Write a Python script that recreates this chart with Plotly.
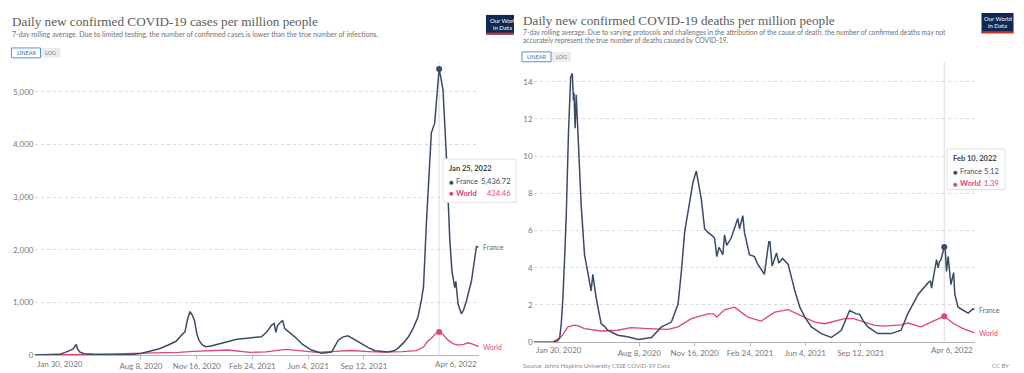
import plotly.graph_objects as go

# ---------------- DATA ----------------
cases_dates = ["2020-01-30","2020-02-25","2020-03-05","2020-03-15","2020-03-25","2020-04-02","2020-04-08",
"2020-04-12","2020-04-14","2020-04-16","2020-04-20","2020-04-28","2020-05-15","2020-06-15","2020-07-10",
"2020-07-25","2020-08-08","2020-08-25","2020-09-10","2020-09-26","2020-10-10","2020-10-20","2020-10-26",
"2020-10-30","2020-11-04","2020-11-08","2020-11-12","2020-11-16","2020-11-20","2020-11-26","2020-12-02",
"2020-12-12","2020-12-24","2021-01-05","2021-01-17","2021-01-27","2021-02-10","2021-02-25","2021-03-12",
"2021-03-22","2021-03-30","2021-04-04","2021-04-07","2021-04-10","2021-04-15","2021-04-19","2021-04-23",
"2021-05-01","2021-05-11","2021-05-25","2021-06-10","2021-06-28","2021-07-10","2021-07-16","2021-07-22",
"2021-07-28","2021-08-05","2021-08-14","2021-08-25","2021-09-07","2021-09-20","2021-10-02","2021-10-25",
"2021-11-05","2021-11-12","2021-11-22","2021-12-01","2021-12-10","2021-12-18","2021-12-24","2021-12-28",
"2022-01-02","2022-01-08","2022-01-11","2022-01-17","2022-01-21","2022-01-25","2022-01-28","2022-02-01",
"2022-02-07","2022-02-13","2022-02-17","2022-02-20","2022-02-22","2022-02-24","2022-02-28","2022-03-06",
"2022-03-10","2022-03-15","2022-03-24","2022-04-02","2022-04-06"]
france_cases = [0,0,2,12,50,80,110,170,200,120,60,25,12,8,10,15,30,70,120,190,260,380,440,650,825,760,656,
420,280,190,157,170,207,240,282,300,313,330,345,440,563,600,430,560,626,660,500,430,345,200,94,32,40,56,
170,281,340,363,300,219,140,82,57,80,126,230,345,520,720,1031,1300,2470,3782,4219,4406,5000,5436.72,5280,
5031,3782,2220,1594,1400,1282,1400,969,782,860,1031,1406,2063,2050]

world_cases_dates = ["2020-01-30","2020-03-01","2020-03-20","2020-04-10","2020-05-15","2020-06-15","2020-07-20",
"2020-08-20","2020-09-20","2020-10-15","2020-11-10","2020-12-15","2021-01-10","2021-02-20","2021-03-20",
"2021-04-25","2021-05-20","2021-06-20","2021-07-20","2021-08-20","2021-09-20","2021-10-15","2021-11-20",
"2021-12-15","2021-12-28","2022-01-05","2022-01-11","2022-01-18","2022-01-25","2022-02-01","2022-02-10",
"2022-02-20","2022-02-28","2022-03-10","2022-03-18","2022-03-25","2022-04-06"]
world_cases = [0,1,4,10,12,18,30,34,38,48,70,82,95,50,60,106,75,48,70,85,65,53,65,82,150,270,313,400,434.46,
390,282,210,188,200,232,210,157]

deaths_dates = ["2020-01-30","2020-03-05","2020-03-12","2020-03-17","2020-03-20","2020-03-23","2020-03-26",
"2020-03-29","2020-04-02","2020-04-06","2020-04-09","2020-04-11","2020-04-12","2020-04-14","2020-04-16",
"2020-04-19","2020-04-22","2020-04-25","2020-05-01","2020-05-07","2020-05-11","2020-05-13","2020-05-16",
"2020-05-19","2020-05-22","2020-05-31","2020-06-06","2020-06-12","2020-06-30","2020-07-18","2020-08-06",
"2020-08-30","2020-09-17","2020-10-05","2020-10-17","2020-10-23","2020-10-29","2020-11-04","2020-11-13",
"2020-11-19","2020-11-21","2020-11-28","2020-12-04","2020-12-10","2020-12-16","2020-12-22","2020-12-26",
"2020-12-30","2021-01-06","2021-01-09","2021-01-13","2021-01-21","2021-02-02","2021-02-05","2021-02-11",
"2021-02-14","2021-02-23","2021-03-04","2021-03-10","2021-03-22","2021-03-30","2021-04-01","2021-04-05",
"2021-04-13","2021-04-17","2021-04-24","2021-05-04","2021-05-10","2021-05-16","2021-05-25","2021-06-03",
"2021-06-15","2021-07-03","2021-07-21","2021-08-08","2021-08-23","2021-09-04","2021-09-10","2021-09-16",
"2021-09-25","2021-10-13","2021-11-06","2021-11-24","2021-12-06","2021-12-22","2021-12-25","2022-01-12",
"2022-01-16","2022-01-18","2022-01-24","2022-01-27","2022-01-30","2022-02-01","2022-02-04","2022-02-07",
"2022-02-10","2022-02-12","2022-02-14","2022-02-17","2022-02-22","2022-02-27","2022-03-01","2022-03-07",
"2022-03-16","2022-03-25","2022-04-03","2022-04-06"]
france_deaths = [0,0,0.05,0.2,1.0,2.4,4.5,6.8,11.25,14.26,14.45,13.0,13.4,11.5,13.3,11.25,9.0,7.36,4.7,3.65,
2.9,2.76,3.65,3.0,2.4,1.0,0.85,0.64,0.37,0.29,0.14,0.25,0.82,1.08,2.05,3.8,5.94,7.0,8.6,9.2,8.9,7.7,6.1,5.9,
5.77,5.6,4.6,5.1,4.7,5.77,5.2,5.6,6.65,6.1,6.8,5.9,4.7,4.6,4.2,3.65,5.4,5.4,4.09,4.8,4.25,4.5,4.18,3.47,2.76,
1.88,1.35,0.82,0.46,0.25,0.64,1.7,1.52,1.5,1.17,0.82,0.46,0.46,0.64,1.52,2.4,2.58,3.2,3.3,2.9,3.82,4.44,4.0,
4.3,4.44,4.88,5.12,4.9,3.8,4.6,3.1,3.74,2.58,1.88,1.7,1.56,1.79,1.75]

world_deaths_dates = ["2020-01-30","2020-03-05","2020-03-20","2020-04-01","2020-04-13","2020-04-20","2020-05-01",
"2020-05-31","2020-06-30","2020-07-24","2020-08-24","2020-09-29","2020-10-17","2020-11-10","2020-12-10",
"2020-12-20","2020-12-26","2021-01-09","2021-01-27","2021-02-20","2021-03-16","2021-04-10","2021-05-04",
"2021-05-28","2021-06-21","2021-07-09","2021-08-14","2021-08-30","2021-10-07","2021-10-25","2021-11-24",
"2021-12-06","2021-12-30","2022-01-24","2022-02-10","2022-02-27","2022-03-16","2022-04-06"]
world_deaths = [0,0.02,0.29,0.82,0.92,0.88,0.73,0.6,0.64,0.78,0.73,0.69,0.82,1.26,1.52,1.52,1.35,1.74,1.88,
1.35,1.13,1.61,1.75,1.43,1.08,0.99,1.26,1.26,0.9,0.86,0.93,1.03,0.82,1.17,1.39,0.99,0.73,0.5]

x_tick_dates = ["2020-08-08","2020-11-16","2021-02-24","2021-06-04","2021-09-12"]
x_tick_text = ["Aug 8, 2020","Nov 16, 2020","Feb 24, 2021","Jun 4, 2021","Sep 12, 2021"]
x_start, x_end = "2020-01-30", "2022-04-06"
x_start_label, x_end_label = "Jan 30, 2020", "Apr 6, 2022"
cases_ticks = [0,1000,2000,3000,4000,5000]
deaths_ticks = [0,2,4,6,8,10,12,14]
hover_cases_date, hover_cases_label = "2022-01-25", "Jan 25, 2022"
hover_deaths_date, hover_deaths_label = "2022-02-10", "Feb 10, 2022"

# ---------------- STYLE ----------------
W, H = 1024, 373
FR = "#3b4a66"
WO = "#e0457b"
SERIF = "Liberation Serif"
SANS = "Lato"
def X(px): return px / W
def Y(py): return 1 - py / H

fig = go.Figure()
def line(x, y, color, xa, ya, width):
    fig.add_trace(go.Scatter(x=x, y=y, mode="lines", line=dict(color=color, width=width),
                             xaxis=xa, yaxis=ya, showlegend=False, hoverinfo="skip", cliponaxis=False))
line(world_cases_dates, world_cases, WO, "x", "y", 1.3)
line(cases_dates, france_cases, FR, "x", "y", 1.5)
line(world_deaths_dates, world_deaths, WO, "x2", "y2", 1.3)
line(deaths_dates, france_deaths, FR, "x2", "y2", 1.5)

def val(dates, vals, d):
    return vals[dates.index(d)]

hc_fr = val(cases_dates, france_cases, hover_cases_date)
hc_wo = val(world_cases_dates, world_cases, hover_cases_date)
hd_fr = val(deaths_dates, france_deaths, hover_deaths_date)
hd_wo = val(world_deaths_dates, world_deaths, hover_deaths_date)

ymax1, ymax2 = 5563, 15.05
shapes = [
    dict(type="line", xref="x", yref="y", x0=hover_cases_date, x1=hover_cases_date, y0=0, y1=ymax1,
         line=dict(color="#dcdcdc", width=1), layer="below"),
    dict(type="line", xref="x2", yref="y2", x0=hover_deaths_date, x1=hover_deaths_date, y0=0, y1=ymax2,
         line=dict(color="#dcdcdc", width=1), layer="below"),
]
for xa, ya, d, fv, wv in [("x", "y", hover_cases_date, hc_fr, hc_wo), ("x2", "y2", hover_deaths_date, hd_fr, hd_wo)]:
    fig.add_trace(go.Scatter(x=[d], y=[wv], mode="markers", marker=dict(color=WO, size=6),
                             xaxis=xa, yaxis=ya, showlegend=False, hoverinfo="skip", cliponaxis=False))
    fig.add_trace(go.Scatter(x=[d], y=[fv], mode="markers", marker=dict(color=FR, size=6),
                             xaxis=xa, yaxis=ya, showlegend=False, hoverinfo="skip", cliponaxis=False))

ann = []
def txt(x, y, s, size, color, xanchor="left", font=SANS, xref="paper", yref="paper", **kw):
    ann.append(dict(x=x, y=y, xref=xref, yref=yref, text=s, showarrow=False, xanchor=xanchor, yanchor="middle",
                    font=dict(family=font, size=size, color=color), **kw))

# Titles
txt(X(2), Y(14), "Daily new confirmed COVID-19 cases per million people", 13.2, "#5b5b5b", font=SERIF)
txt(X(2), Y(26.5), "7-day rolling average. Due to limited testing, the number of confirmed cases is lower than the true number of infections.", 7.0, "#707070")
txt(X(513), Y(12.5), "Daily new confirmed COVID-19 deaths per million people", 13.2, "#5b5b5b", font=SERIF)
txt(X(513), Y(24.5), "7-day rolling average. Due to varying protocols and challenges in the attribution of the cause of death, the number of confirmed deaths may not", 6.75, "#707070")
txt(X(513), Y(32.5), "accurately represent the true number of deaths caused by COVID-19.", 6.75, "#707070")

# LINEAR / LOG toggles
for x0, y0 in [(3.5, 40.5), (514, 44.5)]:
    shapes.append(dict(type="rect", xref="paper", yref="paper", x0=X(x0), x1=X(x0 + 49), y0=Y(y0 + 10), y1=Y(y0),
                       fillcolor="#ececec", line=dict(width=0)))
    shapes.append(dict(type="rect", xref="paper", yref="paper", x0=X(x0), x1=X(x0 + 29), y0=Y(y0 + 10), y1=Y(y0),
                       fillcolor="white", line=dict(color="#5b8fd8", width=1)))
    txt(X(x0 + 14.5), Y(y0 + 5), "LINEAR", 5.5, "#3d6fb6", xanchor="center")
    txt(X(x0 + 39), Y(y0 + 5), "LOG", 5.5, "#777", xanchor="center")

# OWID logos
for x0, x1, y0, y1 in [(478, 506, 7, 27), (973.5, 1005.5, 5, 25.5)]:
    shapes.append(dict(type="rect", xref="paper", yref="paper", x0=X(x0), x1=X(x1), y0=Y(y1), y1=Y(y0),
                       fillcolor="#0f2a52", line=dict(width=0)))
    shapes.append(dict(type="rect", xref="paper", yref="paper", x0=X(x0), x1=X(x1), y0=Y(y1), y1=Y(y1 - 2),
                       fillcolor="#d0332c", line=dict(width=0)))
txt(X(479.5), Y(13), "Our World", 6, "white")
txt(X(483), Y(20), "in Data", 6, "white")
txt(X(989.5), Y(11), "Our World", 6, "white", xanchor="center")
txt(X(989.5), Y(18), "in Data", 6, "white", xanchor="center")

# End x labels
txt(x_start, Y(360.5), x_start_label, 8, "#777", xref="x")
txt(x_end, Y(360.5), x_end_label, 8, "#777", xanchor="right", xref="x")
txt(x_start, Y(346.5), x_start_label, 8, "#777", xref="x2")
txt(x_end, Y(346.5), x_end_label, 8, "#777", xanchor="right", xref="x2")

# series end labels
txt(cases_dates[-1], france_cases[-1], "France", 7, "#666", xref="x", yref="y", xshift=2)
txt(world_cases_dates[-1], world_cases[-1], "World", 7, WO, xref="x", yref="y", xshift=2)
txt(deaths_dates[-1], france_deaths[-1], "France", 7, "#666", xref="x2", yref="y2", xshift=2)
txt(world_deaths_dates[-1], world_deaths[-1], "World", 7, WO, xref="x2", yref="y2", xshift=2)

# Tooltips
def tooltip(bx0, bx1, by0, by1, label, fv, wv, vx):
    shapes.append(dict(type="rect", xref="paper", yref="paper", x0=X(bx0), x1=X(bx1), y0=Y(by1), y1=Y(by0),
                       fillcolor="white", line=dict(color="#e2e2e2", width=1)))
    txt(X(bx0 + 4), Y(by0 + 10), "<b>" + label + "</b>", 7.5, "#444")
    for i, (name, v, col) in enumerate([("France", fv, FR), ("World", wv, WO)]):
        yy = by0 + 23 + 12 * i
        txt(X(bx0 + 3.5), Y(yy), "●", 8, col)
        txt(X(bx0 + 11), Y(yy), "<b>" + name + "</b>" if name == "World" else name, 7.5, col)
        txt(X(vx), Y(yy), (f"{v:,.2f}"), 7.5, col, xanchor="right")
tooltip(435, 508, 153, 197, hover_cases_label, hc_fr, hc_wo, 505)
tooltip(939, 997, 143, 184, hover_deaths_label, hd_fr, hd_wo, 993)

# Footer
txt(X(513), Y(362.5), "Source: Johns Hopkins University CSSE COVID-19 Data", 6, "#8a8a8a")
txt(X(1003), Y(362.5), "CC BY", 6, "#8a8a8a", xanchor="right")

axis_font = dict(family=SANS, size=8, color="#777")
xcommon = dict(type="date", tickvals=x_tick_dates, ticktext=x_tick_text, showgrid=False, showline=True,
               linecolor="#b5b5b5", linewidth=1, ticks="outside", ticklen=3, tickcolor="#b5b5b5",
               tickfont=axis_font, zeroline=False, fixedrange=True)
ycommon = dict(showgrid=True, gridcolor="#dadada", griddash="dot", gridwidth=1, zeroline=False, showline=False,
               tickfont=axis_font, ticks="", fixedrange=True)

fig.update_layout(
    width=W, height=H, margin=dict(l=0, r=0, t=0, b=0),
    paper_bgcolor="white", plot_bgcolor="white", showlegend=False, hovermode=False,
    xaxis=dict(domain=[X(26.5), X(470.7)], anchor="y", range=[x_start, x_end], **xcommon),
    yaxis=dict(domain=[Y(351.7), Y(55)], anchor="x", range=[0, ymax1], tickvals=cases_ticks,
               tickformat=",", **ycommon),
    xaxis2=dict(domain=[X(525.6), X(966.7)], anchor="y2", range=[x_start, x_end], **xcommon),
    yaxis2=dict(domain=[Y(338.7), Y(55)], anchor="x2", range=[0, ymax2], tickvals=deaths_ticks, **ycommon),
    shapes=shapes, annotations=ann,
)
fig.write_html("out.html")
